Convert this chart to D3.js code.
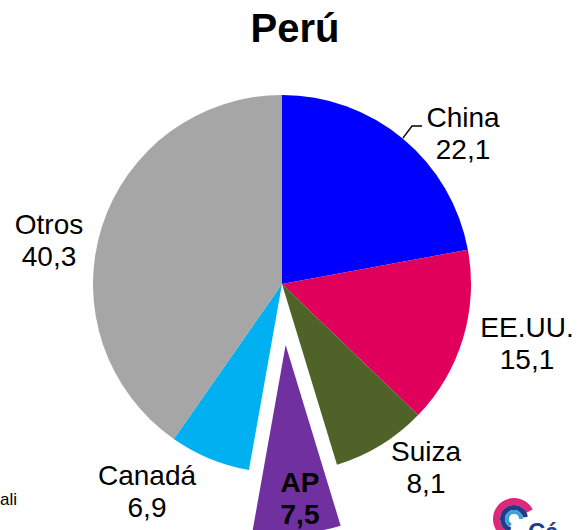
<!DOCTYPE html>
<html>
<head>
<meta charset="utf-8">
<script src="https://cdn.jsdelivr.net/npm/d3@7"></script>
<style>
  body { margin: 0; background: #fff; }
  svg { display: block; font-family: "Liberation Sans", Arial, sans-serif; }
</style>
</head>
<body>
<div id="chart"></div>
<script>
// datos
var paises = ["China", "EE.UU.", "Suiza", "AP", "Canadá", "Otros"];
var valores = [22.1, 15.1, 8.1, 7.5, 6.9, 40.3];
var colores = ["#0000ff", "#e0005c", "#4f6228", "#7030a0", "#00b0f0", "#a6a6a6"];

var W = 577, H = 530;
var cx = 282, cy = 284, r = 189;

var svg = d3.select("#chart").append("svg")
    .attr("width", W)
    .attr("height", H);

svg.append("text")
    .attr("x", 295)
    .attr("y", 42)
    .attr("text-anchor", "middle")
    .style("font-size", "40px")
    .style("font-weight", "bold")
    .text("Perú");

var pie = d3.pie().sort(null).value(function (d) { return d; });
var arcs = pie(valores);
var arc = d3.arc().innerRadius(0).outerRadius(r);

var g = svg.append("g").attr("transform", "translate(" + cx + "," + cy + ")");

g.selectAll("path")
    .data(arcs)
    .enter()
    .append("path")
    .attr("d", arc)
    .attr("fill", function (d, i) { return colores[i]; })
    .attr("transform", function (d, i) {
        if (paises[i] != "AP") return null;
        var a = (d.startAngle + d.endAngle) / 2;
        var off = 61;
        return "translate(" + (Math.sin(a) * off) + "," + (-Math.cos(a) * off) + ")";
    });

// posiciones de etiquetas (x centro, baseline 1a linea)
var etiquetas = [[463, 127], [527, 337], [426, 461], [300, 492], [147, 485], [49, 234]];

svg.selectAll("g.lbl")
    .data(arcs)
    .enter()
    .append("g")
    .attr("class", "lbl")
    .each(function (d, i) {
        var t = d3.select(this).append("text")
            .attr("text-anchor", "middle")
            .style("font-size", "28px")
            .style("font-weight", paises[i] == "AP" ? "bold" : "normal");
        t.append("tspan").attr("x", etiquetas[i][0]).attr("y", etiquetas[i][1]).text(paises[i]);
        t.append("tspan").attr("x", etiquetas[i][0]).attr("y", etiquetas[i][1] + 32)
            .text(String(valores[i]).replace(".", ","));
    });

// linea guia China
svg.append("polyline")
    .attr("points", "403,138 412,126 422,126")
    .attr("fill", "none")
    .attr("stroke", "#000")
    .attr("stroke-width", 1.3);

// texto cortado a la izquierda
svg.append("text")
    .attr("x", 0)
    .attr("y", 505)
    .style("font-size", "17px")
    .text("ali");

// logo cortado
var logo = svg.append("g").attr("transform", "translate(514,519)");
logo.append("path")
    .attr("d", d3.arc().innerRadius(14).outerRadius(21).startAngle(-Math.PI * 0.95).endAngle(Math.PI * 0.35))
    .attr("fill", "#e0287a");
logo.append("path")
    .attr("d", d3.arc().innerRadius(9).outerRadius(14).startAngle(-Math.PI * 0.9).endAngle(Math.PI * 0.45))
    .attr("fill", "#1f3d8c");
logo.append("path")
    .attr("d", d3.arc().innerRadius(5).outerRadius(9).startAngle(-Math.PI * 0.85).endAngle(Math.PI * 0.5))
    .attr("fill", "#3fa0d6");
svg.append("text")
    .attr("x", 528)
    .attr("y", 540)
    .style("font-size", "24px")
    .style("font-weight", "bold")
    .attr("fill", "#1f3d8c")
    .text("Cá");
</script>
</body>
</html>
